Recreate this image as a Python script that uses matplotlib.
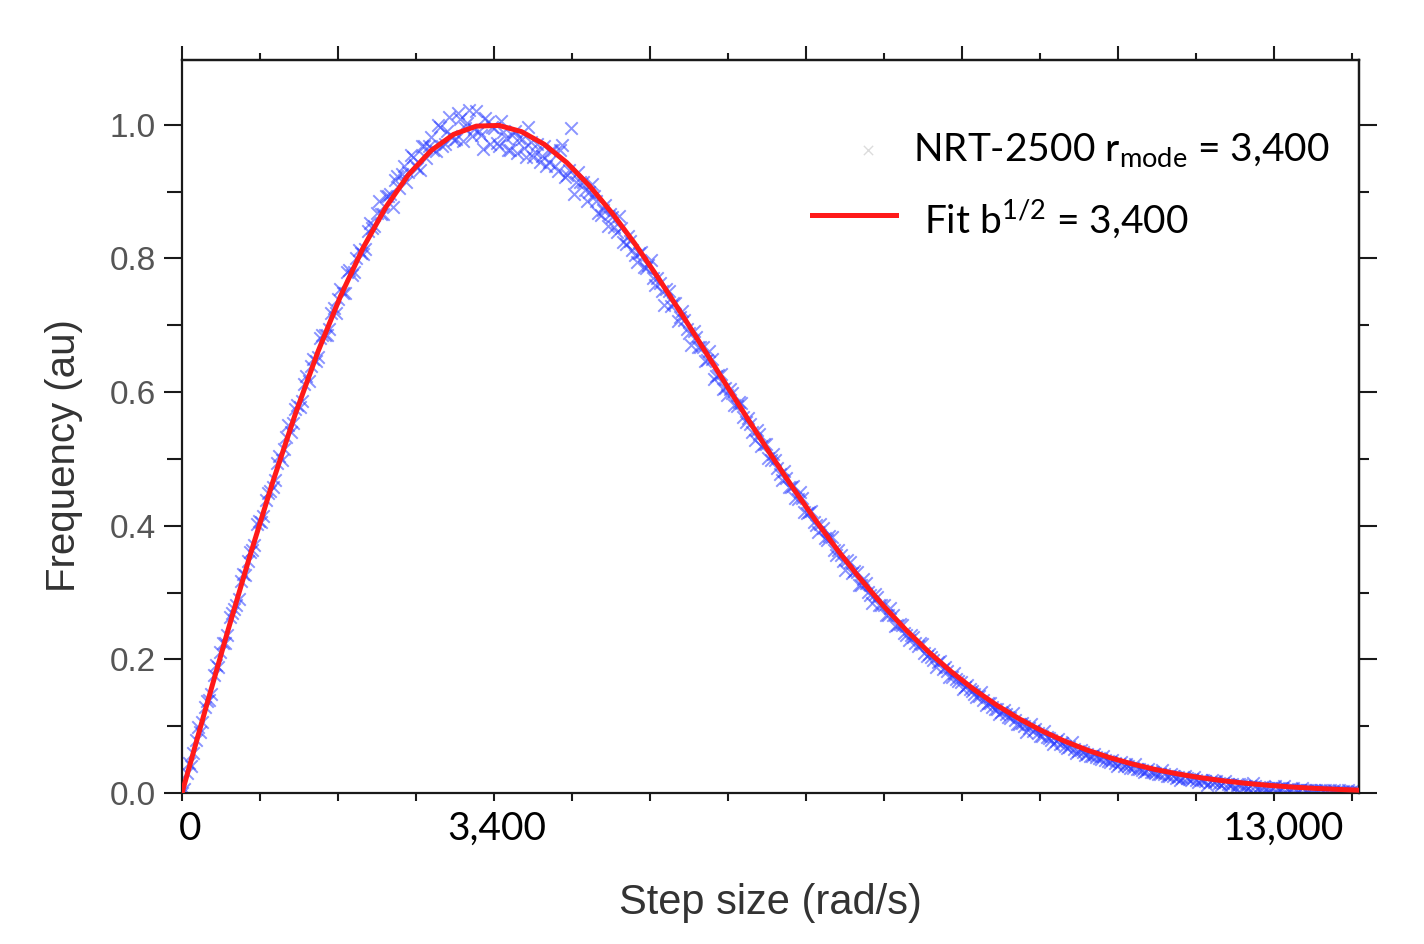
import numpy as np
import matplotlib
matplotlib.use("Agg")
import matplotlib.pyplot as plt
from matplotlib.ticker import MultipleLocator, NullFormatter
import matplotlib.transforms as mtransforms

# ---------------- data ----------------
# measured points, first pass (x = 0, 50, 100, ...)
scatter_step = 50
scatter_y = [
    0.000, 0.030, 0.041, 0.080, 0.092, 0.128, 0.139, 0.176, 0.188, 0.224,
    0.236, 0.270, 0.281, 0.317, 0.326, 0.361, 0.371, 0.407, 0.414, 0.449,
    0.458, 0.494, 0.498, 0.533, 0.540, 0.575, 0.578, 0.612, 0.616, 0.650,
    0.653, 0.686, 0.685, 0.719, 0.718, 0.754, 0.749, 0.783, 0.779, 0.812,
    0.807, 0.841, 0.846, 0.868, 0.866, 0.893, 0.897, 0.918, 0.905, 0.938,
    0.929, 0.952, 0.935, 0.968, 0.950, 0.982, 0.961, 0.996, 0.972, 1.012,
    0.978, 1.018, 0.976, 1.003, 0.984, 1.021, 0.985, 1.010, 0.972, 0.995,
    0.968, 0.989, 0.962, 0.985, 0.958, 0.979, 0.952, 0.975, 0.960, 0.944,
    0.968, 0.944, 0.962, 0.931, 0.970, 0.925, 0.995, 0.915, 0.914, 0.903,
    0.899, 0.893, 0.868, 0.872, 0.849, 0.862, 0.840, 0.846, 0.822, 0.826,
    0.805, 0.808, 0.787, 0.790, 0.770, 0.771, 0.752, 0.754, 0.729, 0.733,
    0.712, 0.708, 0.688, 0.691, 0.668, 0.668, 0.648, 0.650, 0.624, 0.627,
    0.606, 0.604, 0.580, 0.585, 0.562, 0.561, 0.541, 0.544, 0.519, 0.522,
    0.499, 0.499, 0.478, 0.482, 0.458, 0.460, 0.440, 0.442, 0.419, 0.422,
    0.401, 0.402, 0.381, 0.385, 0.364, 0.364, 0.347, 0.348, 0.329, 0.330,
    0.312, 0.314, 0.296, 0.298, 0.281, 0.281, 0.266, 0.267, 0.251, 0.252,
    0.237, 0.237, 0.224, 0.224, 0.210, 0.208, 0.199, 0.196, 0.186, 0.183,
    0.174, 0.171, 0.166, 0.158, 0.155, 0.148, 0.145, 0.139, 0.135, 0.129,
    0.126, 0.121, 0.118, 0.112, 0.109, 0.104, 0.101, 0.098, 0.093, 0.090,
    0.086, 0.084, 0.080, 0.078, 0.074, 0.071, 0.069, 0.066, 0.063, 0.061,
    0.058, 0.056, 0.054, 0.051, 0.049, 0.047, 0.045, 0.043, 0.041, 0.040,
    0.038, 0.036, 0.035, 0.033, 0.032, 0.030, 0.029, 0.028, 0.026, 0.025,
    0.024, 0.023, 0.022, 0.021, 0.020, 0.019, 0.018, 0.017, 0.016, 0.015,
    0.015, 0.014, 0.013, 0.013, 0.012, 0.011, 0.011, 0.010, 0.009, 0.009,
    0.008, 0.008, 0.007, 0.007, 0.006, 0.006, 0.005, 0.005, 0.004, 0.004,
    0.004, 0.003, 0.003, 0.003, 0.002, 0.002, 0.002, 0.002, 0.001, 0.001,
    0.001,
]
scatter_x = np.arange(len(scatter_y)) * scatter_step

# measured points, second pass (x = 25, 75, 125, ...)
scatter2_offset = 25
scatter2_y = [
    0.006, 0.045, 0.060, 0.099, 0.106, 0.138, 0.148, 0.191, 0.211, 0.224,
    0.264, 0.275, 0.290, 0.328, 0.347, 0.364, 0.403, 0.405, 0.438, 0.452,
    0.469, 0.504, 0.515, 0.550, 0.553, 0.581, 0.586, 0.624, 0.639, 0.647,
    0.681, 0.686, 0.695, 0.726, 0.739, 0.749, 0.780, 0.775, 0.800, 0.808,
    0.814, 0.853, 0.849, 0.886, 0.867, 0.893, 0.877, 0.923, 0.926, 0.915,
    0.955, 0.940, 0.933, 0.968, 0.968, 0.963, 0.999, 0.968, 0.991, 0.984,
    0.979, 1.008, 0.995, 1.022, 0.994, 0.991, 0.964, 1.004, 0.996, 0.973,
    1.006, 0.981, 0.962, 0.991, 0.981, 0.966, 0.996, 0.952, 0.971, 0.953,
    0.938, 0.963, 0.939, 0.962, 0.922, 0.932, 0.897, 0.930, 0.915, 0.886,
    0.912, 0.886, 0.865, 0.880, 0.866, 0.847, 0.864, 0.825, 0.833, 0.813,
    0.795, 0.809, 0.785, 0.797, 0.761, 0.763, 0.731, 0.751, 0.734, 0.707,
    0.722, 0.694, 0.671, 0.683, 0.667, 0.646, 0.661, 0.620, 0.626, 0.605,
    0.595, 0.599, 0.579, 0.583, 0.555, 0.552, 0.528, 0.537, 0.523, 0.501,
    0.508, 0.486, 0.468, 0.472, 0.458, 0.442, 0.450, 0.420, 0.421, 0.405,
    0.390, 0.396, 0.378, 0.383, 0.356, 0.356, 0.333, 0.345, 0.332, 0.312,
    0.321, 0.301, 0.285, 0.293, 0.281, 0.267, 0.277, 0.250, 0.253, 0.239,
    0.229, 0.233, 0.220, 0.223, 0.205, 0.204, 0.189, 0.197, 0.188, 0.174,
    0.180, 0.167, 0.156, 0.162, 0.153, 0.143, 0.151, 0.132, 0.135, 0.126,
    0.118, 0.124, 0.114, 0.120, 0.104, 0.105, 0.092, 0.103, 0.096, 0.085,
    0.093, 0.082, 0.073, 0.081, 0.075, 0.067, 0.076, 0.060, 0.065, 0.057,
    0.055, 0.059, 0.053, 0.056, 0.048, 0.049, 0.041, 0.047, 0.044, 0.037,
    0.043, 0.036, 0.031, 0.036, 0.032, 0.029, 0.034, 0.025, 0.028, 0.023,
    0.020, 0.025, 0.021, 0.024, 0.017, 0.019, 0.012, 0.020, 0.018, 0.012,
    0.018, 0.012, 0.008, 0.014, 0.011, 0.008, 0.015, 0.006, 0.009, 0.006,
    0.008, 0.010, 0.008, 0.010, 0.006, 0.007, 0.005, 0.007, 0.005, 0.005,
    0.005, 0.005, 0.004, 0.005, 0.004, 0.004, 0.003, 0.004, 0.003, 0.003,
]
scatter2_x = scatter2_offset + np.arange(len(scatter2_y)) * scatter_step

fit_step = 250
fit_y = [
    0.0000, 0.1209, 0.2399, 0.3549, 0.4644, 0.5665, 0.6599, 0.7433, 0.8158, 0.8765,
    0.9251, 0.9614, 0.9857, 0.9980, 0.9991, 0.9898, 0.9709, 0.9435, 0.9088, 0.8680,
    0.8224, 0.7729, 0.7208, 0.6672, 0.6132, 0.5596, 0.5070, 0.4562, 0.4077, 0.3619,
    0.3192, 0.2797, 0.2435, 0.2107, 0.1811, 0.1547, 0.1313, 0.1108, 0.0929, 0.0775,
    0.0641, 0.0528, 0.0433, 0.0352, 0.0285, 0.0229, 0.0183, 0.0145, 0.0115, 0.0090,
    0.0070, 0.0055, 0.0042,
]
fit_x = np.arange(len(fit_y)) * fit_step

x_label_texts = ["0", "3,400", "13,000"]
x_label_pos = [88, 3480, 12166]
y_ticks = [0.0, 0.2, 0.4, 0.6, 0.8, 1.0]

series_label = r"NRT-2500 r$_{\mathrm{mode}}$ = 3,400"
fit_label = r"Fit b$^{\mathrm{1/2}}$ = 3,400"

# ---------------- styling ----------------
plt.rcParams['mathtext.fontset'] = 'custom'
plt.rcParams['mathtext.rm'] = 'Lato'
plt.rcParams['mathtext.it'] = 'Lato:italic'

W, H = 1424, 944
fig = plt.figure(figsize=(W / 100, H / 100), dpi=100)
fig.patch.set_facecolor('white')
ax = fig.add_axes([182 / W, 1 - 793 / H, 1177 / W, 733 / H])

blue = '#2a3cff'
for xs, ys in ((scatter_x, scatter_y), (scatter2_x, scatter2_y)):
    ax.scatter(xs, ys, marker='x', s=80, linewidths=1.4,
               color=blue, alpha=0.55, zorder=2)
ax.plot(fit_x, fit_y, color='#ff1a1a', lw=3.6, zorder=3, solid_capstyle='round')

ax.set_xlim(0, 13000)
ax.set_ylim(0, 1.097)

for sp in ax.spines.values():
    sp.set_linewidth(1.6)
    sp.set_color('#1a1a1a')

# x ticks: unlabeled marks
ax.xaxis.set_major_locator(MultipleLocator(1723.6))
ax.xaxis.set_minor_locator(MultipleLocator(861.8))
ax.xaxis.set_major_formatter(NullFormatter())
ax.tick_params(axis='x', which='both', direction='out', length=6, width=1.5,
               color='#1a1a1a', top=False)

# y ticks
ax.set_yticks(y_ticks)
ax.set_yticklabels([f"{v:.1f}" for v in y_ticks])
ax.yaxis.set_minor_locator(MultipleLocator(0.1))
ax.tick_params(axis='y', which='major', direction='out', length=13, width=1.5,
               color='#1a1a1a', labelsize=24, labelcolor='#555555', pad=6, right=False)
ax.tick_params(axis='y', which='minor', direction='out', length=11, width=1.5,
               color='#1a1a1a', right=False)
for lab in ax.get_yticklabels():
    lab.set_family(['Liberation Sans', 'DejaVu Sans'])

# top axis ticks
top = ax.secondary_xaxis('top')
top.xaxis.set_major_locator(MultipleLocator(1723.6))
top.xaxis.set_minor_locator(MultipleLocator(861.8))
top.xaxis.set_major_formatter(NullFormatter())
top.tick_params(axis='x', which='major', direction='out', length=10, width=1.5, color='#1a1a1a')
top.tick_params(axis='x', which='minor', direction='out', length=5, width=1.5, color='#1a1a1a')
top.spines['top'].set_linewidth(1.6)

# right axis ticks
right = ax.secondary_yaxis('right')
right.yaxis.set_major_locator(MultipleLocator(0.2))
right.yaxis.set_minor_locator(MultipleLocator(0.1))
right.yaxis.set_major_formatter(NullFormatter())
right.tick_params(axis='y', which='major', direction='out', length=13, width=1.5, color='#1a1a1a')
right.tick_params(axis='y', which='minor', direction='out', length=7, width=1.5, color='#1a1a1a')
right.spines['right'].set_linewidth(1.6)

# custom x labels
trans = mtransforms.blended_transform_factory(ax.transData, ax.transAxes)
for pos, txt in zip(x_label_pos, x_label_texts):
    ax.text(pos, -0.049, txt, transform=trans, ha='center', va='center',
            fontsize=28, family=['Lato', 'DejaVu Sans'], color='black')

ax.set_xlabel("Step size (rad/s)", fontsize=30, color='#333333',
              family=['Liberation Sans', 'DejaVu Sans'])
ax.xaxis.set_label_coords(0.4996, -0.150)
ax.xaxis.label.set_verticalalignment('center')
ax.set_ylabel("Frequency (au)", fontsize=29, color='#333333',
              family=['Liberation Sans', 'DejaVu Sans'])
ax.yaxis.set_label_coords(-0.100, 0.461)
ax.yaxis.label.set_verticalalignment('center')

# legend (drawn manually)
ax.scatter([0.583], [0.877], transform=ax.transAxes, marker='x', s=45,
           color='#bbbbbb', alpha=0.5, linewidths=1.0, clip_on=False)
ax.plot([0.535, 0.607], [0.789, 0.789], transform=ax.transAxes, color='#ff1a1a', lw=3.6)
ax.text(0.621, 0.877, series_label, transform=ax.transAxes, ha='left', va='center',
        fontsize=28, family=['Lato', 'DejaVu Sans'], color='black')
ax.text(0.630, 0.784, fit_label, transform=ax.transAxes, ha='left', va='center',
        fontsize=28, family=['Lato', 'DejaVu Sans'], color='black')

fig.savefig("out.png", dpi=100)
